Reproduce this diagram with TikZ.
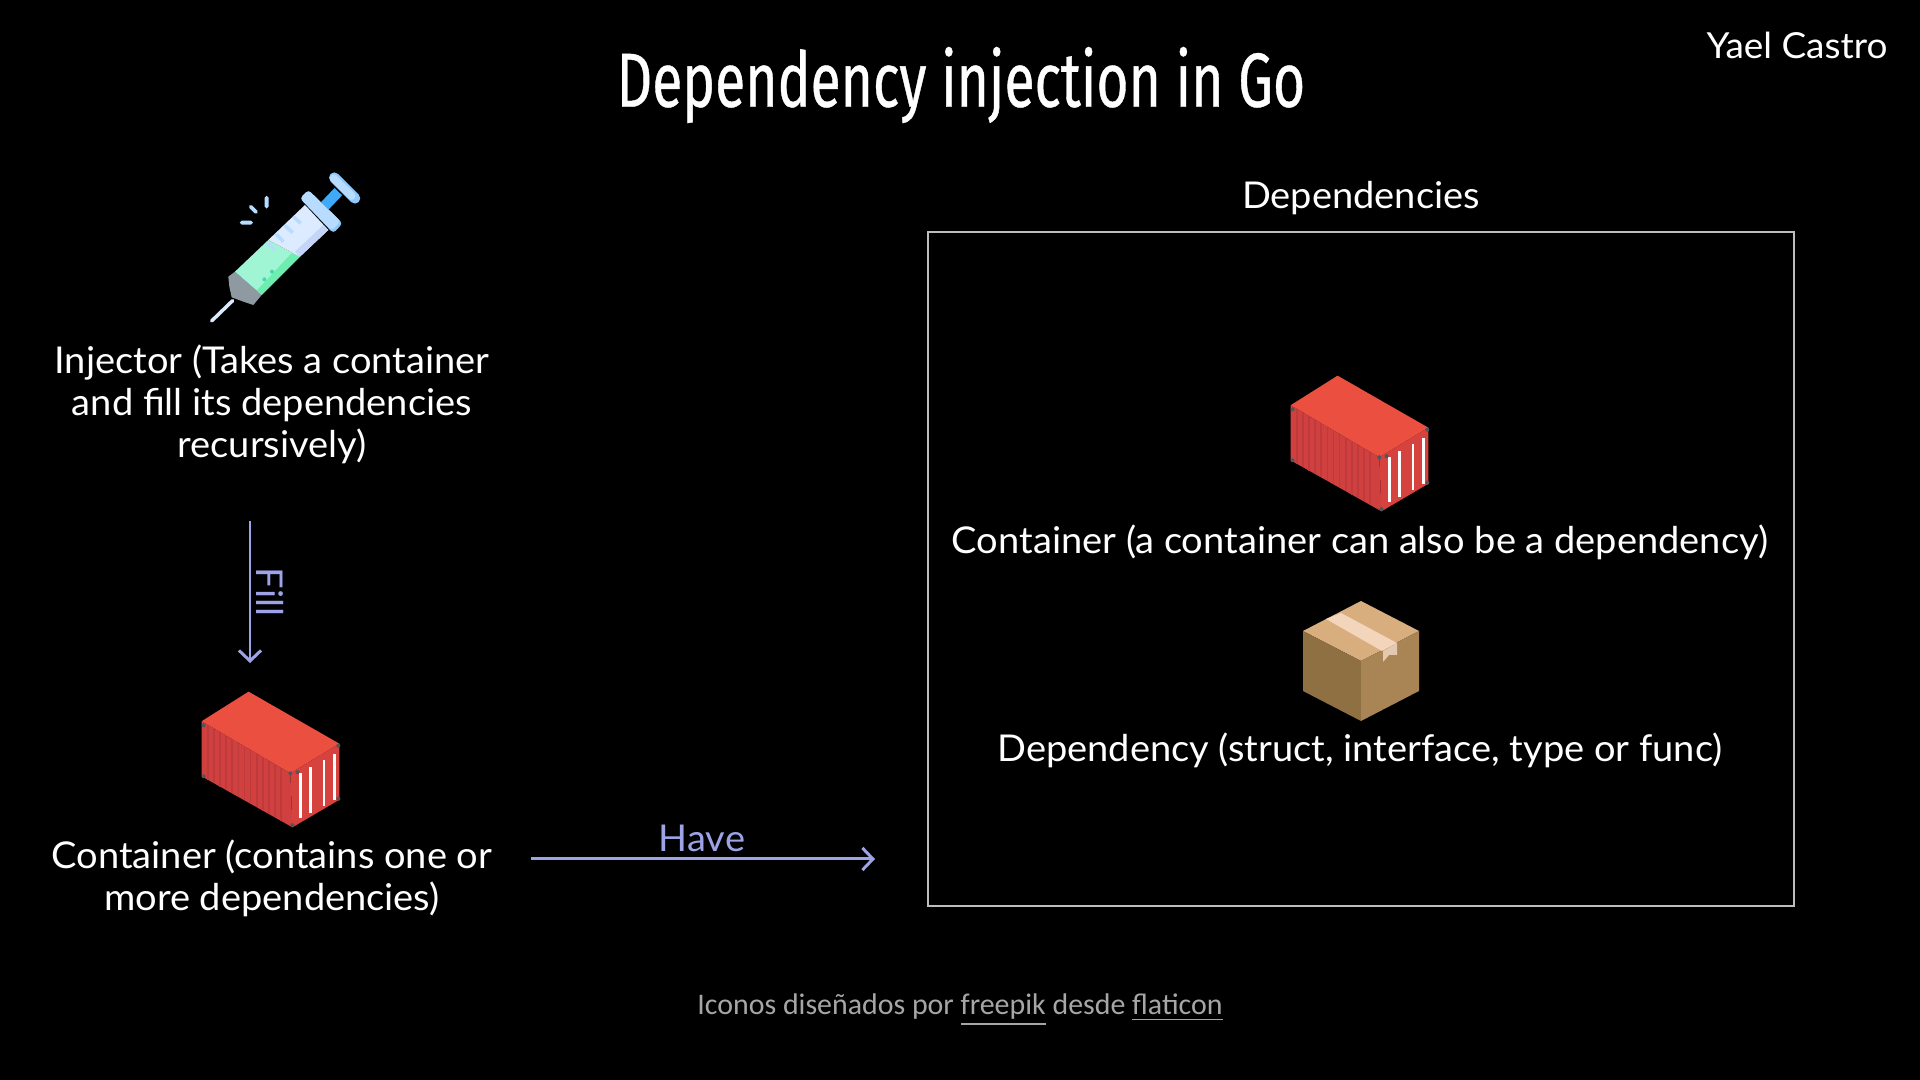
\documentclass[tikz,border=0pt]{standalone}
\usepackage{fontspec}
\setmainfont[FakeStretch=1.03]{Lato}
\newfontfamily\titlefont[FakeStretch=0.72,FakeBold=0.5]{Fira Sans}
\newfontfamily\footfont{Carlito}
\usetikzlibrary{arrows.meta,positioning}
\definecolor{arrowblue}{HTML}{9DA3E6}
\definecolor{framegrey}{HTML}{BDBDBD}
\definecolor{boltgrey}{HTML}{55535A}
\definecolor{syrblue}{HTML}{B7DCFF}
\definecolor{syrdark}{HTML}{8FC8FB}
\tikzset{
  txt/.style={text=white,inner sep=0pt,align=center,font=\fontsize{10.5}{11.95}\selectfont},
  arrowtxt/.style={text=arrowblue,inner sep=0pt,font=\fontsize{10.5}{12}\selectfont},
  link/.style={draw=arrowblue,line width=0.85pt,-{Straight Barb[length=3pt,width=6.3pt]}},
  containericon/.pic={
    \fill[fill={rgb,255:red,235;green,79;blue,63}] (-22,-67) -- (-68,-38) -- (19,13) -- (67,-16) -- cycle;
    \fill[fill={rgb,255:red,207;green,64;blue,62}] (-68,-38) -- (19,13) -- (21,66) -- (-68,16) -- cycle;
    \fill[fill={rgb,255:red,214;green,66;blue,62}] (19,13) -- (67,-16) -- (67,39) -- (21,66) -- cycle;
    % ribs of the long side
    \foreach \i in {-62,-56,...,14}
      \draw[line width=0.45pt,color={rgb,255:red,190;green,58;blue,60}] (\i,{-38+(\i+68)*0.586}) -- (\i,{16+(\i+68)*0.56});
    \foreach \i/\j/\k in {29/13/57,39/7/52,52/0/45,62/-6/39}
      \draw[white,line width=0.8pt] (\i,\j) -- (\i,\k);
    \foreach \i/\j in {-66/-34,-66/16,19/13,26/12,21/64,66/-14,66/38}
      \fill[boltgrey] (\i,\j) circle (2);
  },
  boxicon/.pic={
    \fill[fill={rgb,255:red,217;green,174;blue,127}] (0,-60) -- (-58,-30) -- (0,0) -- (58,-30) -- cycle;
    \fill[fill={rgb,255:red,143;green,112;blue,67}] (-58,-30) -- (0,0) -- (0,60) -- (-58,30) -- cycle;
    \fill[fill={rgb,255:red,169;green,133;blue,86}] (0,0) -- (58,-30) -- (58,30) -- (0,60) -- cycle;
    \fill[fill={rgb,255:red,242;green,213;blue,187}] (-35,-42) -- (-20,-48) -- (36,-18) -- (21,-10) -- cycle;
    \fill[fill={rgb,255:red,227;green,201;blue,178}] (22,-10) -- (36,-18) -- (36,-6) -- (28,-6) -- (22,1) -- cycle;
  },
  syringeicon/.pic={
    \draw[line width=1pt,line cap=round,color={rgb,255:red,220;green,235;blue,251}] (128,422) -- (65,483);
    \fill[fill={rgb,255:red,142;green,153;blue,162}] (135,335) -- (215,405) -- (190,435) -- (160,425) -- (125,412) -- (118,380) -- (115,350) -- cycle;
    \fill[fill={rgb,255:red,160;green,245;blue,213}] (135,335) -- (235,240) -- (330,290) -- (215,405) -- cycle;
    \fill[fill={rgb,255:red,110;green,237;blue,176}] (312,272) -- (330,290) -- (215,405) -- (200,392) -- cycle;
    \fill[fill={rgb,255:red,220;green,235;blue,255}] (235,240) -- (345,135) -- (415,210) -- (330,290) -- cycle;
    \fill[fill={rgb,255:red,197;green,213;blue,248}] (400,195) -- (415,210) -- (330,290) -- (315,275) -- cycle;
    \draw[line width=3pt,color={rgb,255:red,63;green,169;blue,245}] (405,137) -- (445,95);
    % plunger head and flange, lighter over darker
    \draw[line width=3pt,line cap=round,color=syrdark] (433,53) -- (495,115);
    \draw[line width=2.2pt,line cap=round,color=syrblue] (431,55) -- (485,108);
    \fill[fill=syrdark,rounded corners=1pt] (330,115) -- (355,90) -- (458,190) -- (430,220) -- cycle;
    \fill[fill=syrblue,rounded corners=1pt] (330,115) -- (355,90) -- (452,184) -- (425,212) -- cycle;
    \foreach \a/\b/\c/\d in {310/170/332/190,285/197/308/218,258/222/280/245,232/248/255/270}
      \draw[line width=1pt,color=syrblue] (\a,\b) -- (\c,\d);
    \fill[fill={rgb,255:red,70;green,215;blue,170}] (246,335) circle (6) (223,358) circle (6);
    \draw[line width=1.1pt,line cap=round,color=syrblue] (155,188) -- (183,188) (182,140) -- (198,156) (230,113) -- (230,140);
  }
}
\begin{document}
\begin{tikzpicture}[x=0.01cm,y=-0.01cm,node distance=1cm,on grid]
   \fill[black] (0,0) rectangle (1920,1080);
   \useasboundingbox (0,0) rectangle (1920,1080);
   \node [inner sep=0pt,text=white,font=\titlefont\fontsize{21.8}{24}\selectfont] (title) at (961,85) {Dependency injection in Go};
   \node [txt,font=\fontsize{10.2}{12}\selectfont] (author) at (1797,45) {Yael Castro};

   \pic [scale=0.3333] at (190,160) {syringeicon};
   \node [txt] (injector) at (272,404.5) {Injector (Takes a container\\and fill its dependencies\\recursively)};
   \pic [scale=1.02] at (271,760) {containericon};
   \node [txt] (holder) at (272,878.5) {Container (contains one or\\more dependencies)};

   \coordinate (fillstart) at (250,521);
   \coordinate (fillend) at (250,663);
   \draw [link] (fillstart) -- (fillend);
   \node [arrowtxt,rotate=-90] (filltxt) at (270,592) {Fill};

   \coordinate (havestart) at (531,859);
   \coordinate (haveend) at (875,859);
   \draw [link] (havestart) -- (haveend);
   \node [arrowtxt] (havetxt) at (702,838) {Have};

   \node [draw=framegrey,line width=0.6pt,minimum width=8.66cm,minimum height=6.74cm,inner sep=0pt] (frame) at (1361,569) {};
   \node [txt] (deps) [above=3.71cm of frame] {Dependencies};
   \pic [scale=1.02] at (1360,444) {containericon};
   \node [txt] (depcontainer) at (1360,542.5) {Container (a container can also be a dependency)};
   \pic at (1361,661) {boxicon};
   \node [txt] (dependency) [below=2.08cm of depcontainer] {Dependency (struct, interface, type or func)};

   \node [inner sep=0pt,text={rgb,255:red,166;green,166;blue,166},font=\footfont\fontsize{8.5}{10}\selectfont] (credit) at (960,1010)
     {Iconos diseñados por \underline{freepik} desde \underline{flaticon}};
\end{tikzpicture}
\end{document}
